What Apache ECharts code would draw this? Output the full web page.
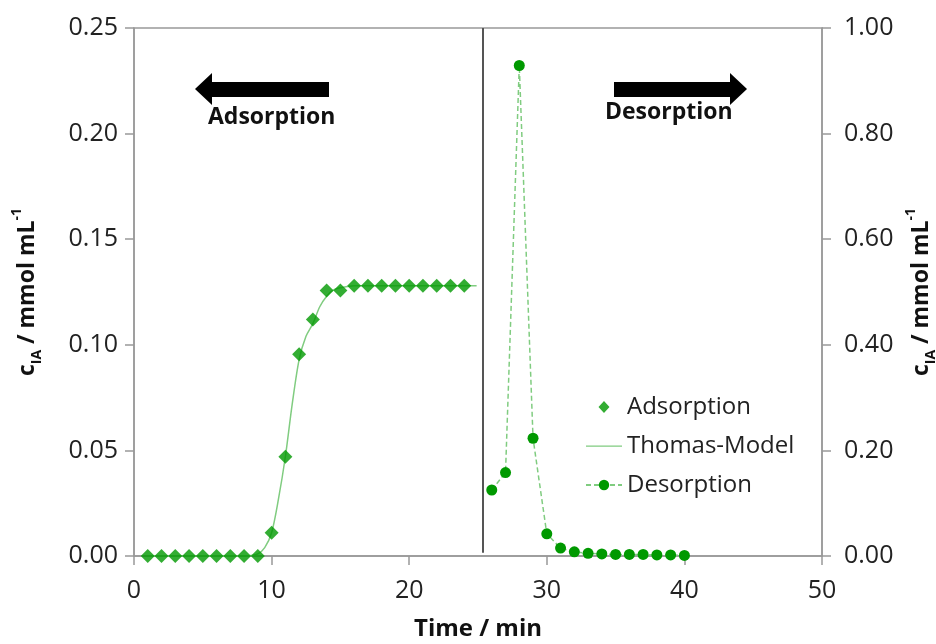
<!DOCTYPE html>
<html>
<head>
<meta charset="utf-8">
<script src="https://cdn.jsdelivr.net/npm/echarts@6/dist/echarts.min.js"></script>
<style>
  html, body { margin: 0; padding: 0; background: #fff; }
  #main { width: 936px; height: 644px; }
</style>
</head>
<body>
<div id="main"></div>
<script>
// 吸附数据 (左轴)
const adsTime = [1, 2, 3, 4, 5, 6, 7, 8, 9, 10, 11, 12, 13, 14, 15, 16, 17, 18, 19, 20, 21, 22, 23, 24];
const adsConc = [0, 0, 0, 0, 0, 0, 0, 0, 0, 0.011, 0.047, 0.0955, 0.112, 0.1257, 0.1257, 0.128, 0.128, 0.128, 0.128, 0.128, 0.128, 0.128, 0.128, 0.128];

// Thomas 模型曲线 (从图上读的点)
const thomasTime = [1, 4, 8, 8.5, 9, 9.5, 10, 10.5, 11, 11.5, 12, 12.5, 13, 13.5, 14, 14.5, 15, 16, 18, 20, 22, 24, 24.9];
const thomasConc = [0, 0, 0, 0.0003, 0.001, 0.004, 0.011, 0.027, 0.047, 0.072, 0.093, 0.104, 0.110, 0.118, 0.123, 0.126, 0.127, 0.128, 0.128, 0.128, 0.128, 0.128, 0.128];

// 解吸数据 (右轴)
const desTime = [26, 27, 28, 29, 30, 31, 32, 33, 34, 35, 36, 37, 38, 39, 40];
const desConc = [0.125, 0.158, 0.929, 0.223, 0.042, 0.015, 0.008, 0.005, 0.004, 0.003, 0.003, 0.003, 0.002, 0.002, 0.001];

const switchTime = 25.35;

const leftTicks = { min: 0, max: 0.25, interval: 0.05 };
const rightTicks = { min: 0, max: 1, interval: 0.2 };
const xTicks = { min: 0, max: 50, interval: 10 };

const FONT = '"Open Sans", sans-serif';
const green = '#009900';
const lightGreen = '#80cc80';
const axisGrey = '#999999';

const myechart = echarts.init(document.getElementById('main'));

const yName = '{m|c}{s|IA}{m| / mmol mL}{p|-1}';
const yNameStyle = {
  rich: {
    m: { fontSize: 23, fontWeight: 'bold', fontFamily: FONT, color: '#111', lineHeight: 34 },
    s: { fontSize: 14, fontWeight: 'bold', fontFamily: FONT, color: '#111', verticalAlign: 'bottom', lineHeight: 34 },
    p: { fontSize: 14, fontWeight: 'bold', fontFamily: FONT, color: '#111', verticalAlign: 'top', lineHeight: 34 }
  }
};

// 图例图标: 菱形放在 36x13 的框中间, 细线
const diamondIcon = 'path://M12.5,6.5L18,0.5L23.5,6.5L18,12.5Z M0,6.5h0.01v0.01h-0.01z M36,6.5h0.01v0.01h-0.01z';
const thinLineIcon = 'path://M0,0h0.01v13h-0.01z M0,6h36v1.3h-36z';

const tickLabel = { fontSize: 25, fontFamily: FONT, color: '#222' };

const option = {
  animation: false,
  grid: {
    left: 134, right: 114, top: 28, bottom: 88,
    outerBoundsMode: 'none',
    containLabel: false,
    show: true, borderColor: axisGrey, borderWidth: 1.5
  },
  legend: {
    orient: 'vertical',
    left: 580,
    top: 390,
    itemWidth: 36,
    itemHeight: 13,
    itemGap: 15,
    textStyle: { fontSize: 24, fontFamily: FONT, color: '#222' },
    data: [
      { name: 'Adsorption', icon: diamondIcon },
      { name: 'Thomas-Model', icon: thinLineIcon },
      'Desorption'
    ]
  },
  xAxis: {
    type: 'value',
    min: xTicks.min, max: xTicks.max, interval: xTicks.interval,
    name: 'Time / min',
    nameLocation: 'middle',
    nameGap: 61,
    nameTextStyle: { fontSize: 24, fontWeight: 'bold', fontFamily: FONT, color: '#111' },
    axisLine: { lineStyle: { color: axisGrey, width: 1.5 } },
    axisTick: { length: 9, lineStyle: { color: axisGrey, width: 1.5 } },
    axisLabel: Object.assign({ margin: 22 }, tickLabel),
    splitLine: { show: false }
  },
  yAxis: [
    {
      type: 'value',
      min: leftTicks.min, max: leftTicks.max, interval: leftTicks.interval,
      name: yName,
      nameLocation: 'middle',
      nameGap: 90,
      nameTextStyle: yNameStyle,
      axisLine: { show: true, lineStyle: { color: axisGrey, width: 1.5 } },
      axisTick: { show: true, length: 9, lineStyle: { color: axisGrey, width: 1.5 } },
      axisLabel: Object.assign({ margin: 16, formatter: v => v.toFixed(2) }, tickLabel),
      splitLine: { show: false }
    },
    {
      type: 'value',
      position: 'right',
      min: rightTicks.min, max: rightTicks.max, interval: rightTicks.interval,
      name: yName,
      nameLocation: 'middle',
      nameGap: 82,
      nameTextStyle: yNameStyle,
      axisLine: { show: true, lineStyle: { color: axisGrey, width: 1.5 } },
      axisTick: { show: true, length: 9, lineStyle: { color: axisGrey, width: 1.5 } },
      axisLabel: Object.assign({ margin: 22, formatter: v => v.toFixed(2) }, tickLabel),
      splitLine: { show: false }
    }
  ],
  graphic: [
    // 吸附箭头 (向左)
    {
      type: 'polygon',
      shape: { points: [[195, 89], [212, 73], [212, 82], [329, 82], [329, 97], [212, 97], [212, 105]] },
      style: { fill: '#000' }
    },
    {
      type: 'text', left: 208, top: 106,
      style: { text: 'Adsorption', fontSize: 23, fontWeight: 'bold', fontFamily: FONT, fill: '#111' }
    },
    // 解吸箭头 (向右)
    {
      type: 'polygon',
      shape: { points: [[747, 89], [730, 73], [730, 82], [614, 82], [614, 97], [730, 97], [730, 105]] },
      style: { fill: '#000' }
    },
    {
      type: 'text', left: 605, top: 101,
      style: { text: 'Desorption', fontSize: 23, fontWeight: 'bold', fontFamily: FONT, fill: '#111' }
    }
  ],
  series: [
    {
      name: 'Thomas-Model',
      type: 'line',
      yAxisIndex: 0,
      smooth: 0.3,
      showSymbol: false,
      symbol: 'none',
      lineStyle: { color: lightGreen, width: 1.5 },
      itemStyle: { color: lightGreen },
      data: thomasTime.map((t, i) => [t, thomasConc[i]]),
      markLine: {
        silent: true,
        symbol: 'none',
        label: { show: false },
        lineStyle: { color: '#555', width: 2, type: 'solid' },
        data: [[{ coord: [switchTime, 0.0015] }, { coord: [switchTime, 0.25] }]]
      },
      z: 2
    },
    {
      name: 'Adsorption',
      type: 'scatter',
      yAxisIndex: 0,
      symbol: 'diamond',
      symbolSize: 14,
      itemStyle: { color: green },
      data: adsTime.map((t, i) => [t, adsConc[i]]),
      z: 3
    },
    {
      name: 'Desorption',
      type: 'line',
      yAxisIndex: 1,
      symbol: 'circle',
      symbolSize: 11,
      showAllSymbol: true,
      lineStyle: { color: lightGreen, width: 1.5, type: [5, 3] },
      itemStyle: { color: green },
      data: desTime.map((t, i) => [t, desConc[i]]),
      z: 3
    }
  ]
};

myechart.setOption(option);
window.addEventListener('resize', () => { myechart && myechart.resize(); });
</script>
</body>
</html>
